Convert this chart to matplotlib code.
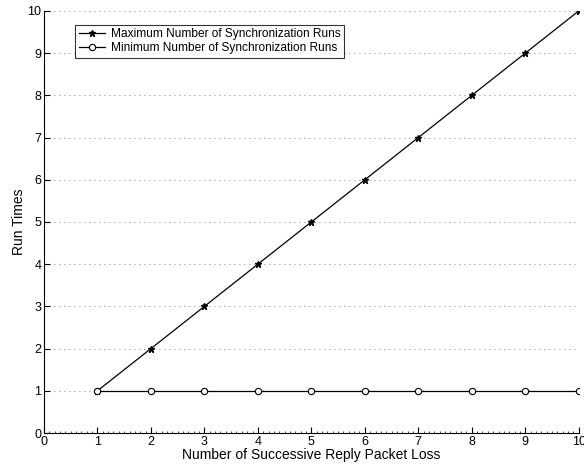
#!/usr/bin/env python3

import matplotlib
matplotlib.use('Agg')
import matplotlib.pyplot as plt
import matplotlib.ticker as tkr

plt.rcParams['font.family'] = ['Liberation Sans', 'DejaVu Sans']

loss = [1, 2, 3, 4, 5, 6, 7, 8, 9, 10]
max_runs = [1, 2, 3, 4, 5, 6, 7, 8, 9, 10]
min_runs = [1, 1, 1, 1, 1, 1, 1, 1, 1, 1]


def main():
  fig = plt.figure(figsize=(5.84, 4.70), dpi=100)
  ax = fig.add_axes([0.0753, 0.0787, 0.9157, 0.898])
  ax.plot(loss, max_runs, color='black', lw=0.9, marker='*', ms=4.5,
          label='Maximum Number of Synchronization Runs')
  ax.plot(loss, min_runs, color='black', lw=0.9, marker='o', ms=4.5,
          mfc='white', mew=0.8, label='Minimum Number of Synchronization Runs')
  ax.set_xlim(0, 10)
  ax.set_ylim(0, 10)
  ax.set_xticks(range(11))
  ax.set_yticks(range(11))
  ax.xaxis.set_minor_locator(tkr.MultipleLocator(0.1))
  ax.tick_params(direction='in', labelsize=9, length=4, width=0.8, pad=2)
  ax.tick_params(which='minor', direction='in', length=1.5, width=0.5)
  ax.spines['top'].set_visible(False)
  ax.spines['right'].set_visible(False)
  ax.yaxis.grid(True, linestyle=(0, (1, 5)), color='#555555', lw=0.6)
  ax.set_axisbelow(True)
  ax.set_xlabel('Number of Successive Reply Packet Loss', fontsize=10, labelpad=0)
  ax.set_ylabel('Run Times', fontsize=10, labelpad=1)
  leg = ax.legend(loc='upper left', bbox_to_anchor=(0.058, 0.967), fontsize=8.6,
                  frameon=True, fancybox=False, edgecolor='black',
                  handlelength=2.2, borderpad=0.3, labelspacing=0.15,
                  handletextpad=0.5, borderaxespad=0)
  leg.get_frame().set_linewidth(0.8)
  fig.savefig('out.png', dpi=100)


if __name__ == '__main__':
  main()
